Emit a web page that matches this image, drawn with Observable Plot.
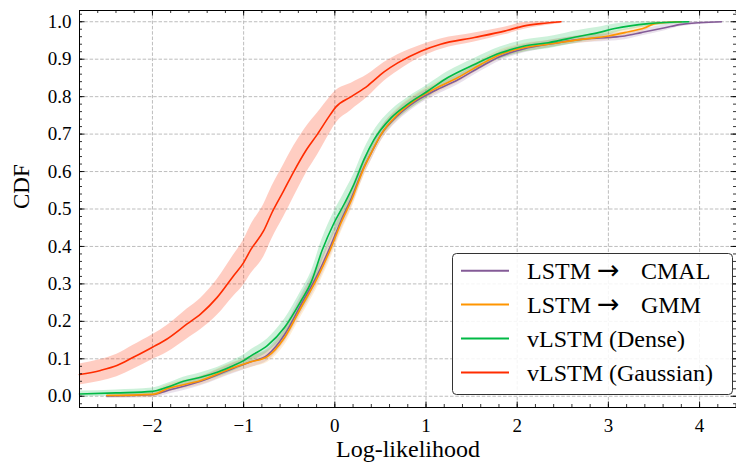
<!DOCTYPE html>
<html>
<head>
<meta charset="utf-8">
<script src="https://cdn.jsdelivr.net/npm/d3@7"></script>
<script src="https://cdn.jsdelivr.net/npm/@observablehq/plot@0.6"></script>
<style>
  body { margin: 0; background: #fff; }
  #chart svg { display: block; }
</style>
</head>
<body>
<div id="chart"></div>
<script>
// ---------- data ----------
const seriesNames = ["LSTM \u2192 CMAL", "LSTM \u2192 GMM", "vLSTM (Dense)", "vLSTM (Gaussian)"];
const seriesColors = ["#845B97", "#FF9500", "#00B945", "#FF2C00"];

const cmalX = [-2.50,-2.00,-1.84,-1.47,-1.11,-0.92,-0.74,-0.55,-0.37,-0.19,-0.04,0.07,0.18,0.32,0.40,0.51,0.69,0.87,1.09,1.35,1.60,1.82,2.08,2.34,2.70,3.00,3.18,3.36,3.62,3.80,4.24];
const cmalY = [0.001,0.004,0.015,0.040,0.075,0.092,0.110,0.165,0.245,0.325,0.405,0.470,0.528,0.612,0.650,0.700,0.750,0.785,0.815,0.845,0.880,0.908,0.928,0.940,0.953,0.958,0.962,0.971,0.984,0.993,1.000];
const cmalBand = [0.006,0.008,0.010,0.012,0.014,0.015,0.016,0.020,0.024,0.026,0.026,0.026,0.025,0.022,0.020,0.018,0.016,0.015,0.014,0.013,0.012,0.012,0.011,0.010,0.010,0.010,0.010,0.009,0.008,0.006,0.004];

const gmmX = [-2.50,-2.00,-1.84,-1.47,-1.11,-0.92,-0.74,-0.55,-0.37,-0.19,-0.04,0.07,0.18,0.32,0.40,0.51,0.69,0.87,1.09,1.35,1.60,1.82,2.08,2.34,2.70,3.00,3.18,3.40,3.51,3.80];
const gmmY = [0.002,0.005,0.020,0.042,0.077,0.092,0.106,0.157,0.237,0.317,0.397,0.464,0.522,0.610,0.650,0.700,0.753,0.789,0.820,0.851,0.886,0.913,0.931,0.940,0.953,0.962,0.971,0.984,0.995,1.000];
const gmmBand = [0.006,0.008,0.010,0.012,0.014,0.015,0.016,0.020,0.024,0.026,0.026,0.026,0.025,0.022,0.020,0.018,0.016,0.015,0.014,0.013,0.012,0.012,0.011,0.010,0.010,0.010,0.009,0.008,0.006,0.004];

const denseX = [-2.80,-2.40,-2.00,-1.84,-1.66,-1.47,-1.29,-1.11,-1.00,-0.92,-0.74,-0.55,-0.37,-0.26,-0.14,-0.01,0.10,0.21,0.32,0.43,0.62,0.80,1.02,1.24,1.53,1.82,2.08,2.34,2.70,2.89,3.07,3.44,3.88];
const denseY = [0.006,0.009,0.013,0.024,0.040,0.051,0.064,0.082,0.095,0.108,0.135,0.184,0.255,0.304,0.389,0.462,0.512,0.566,0.632,0.685,0.744,0.780,0.815,0.851,0.886,0.917,0.935,0.944,0.962,0.971,0.982,0.995,1.000];
const denseBand = [0.008,0.008,0.009,0.010,0.011,0.012,0.013,0.014,0.015,0.016,0.018,0.022,0.026,0.028,0.030,0.030,0.030,0.028,0.026,0.024,0.020,0.018,0.017,0.016,0.016,0.016,0.016,0.016,0.016,0.014,0.012,0.008,0.004];

const gaussX = [-2.80,-2.57,-2.39,-2.21,-2.00,-1.84,-1.62,-1.47,-1.29,-1.11,-1.00,-0.92,-0.78,-0.69,-0.56,-0.45,-0.32,-0.19,-0.05,0.01,0.18,0.36,0.54,0.69,0.95,1.16,1.53,1.86,2.08,2.26,2.48];
const gaussY = [0.058,0.069,0.082,0.104,0.131,0.153,0.193,0.220,0.264,0.322,0.357,0.392,0.442,0.490,0.549,0.600,0.655,0.700,0.752,0.772,0.800,0.829,0.866,0.890,0.922,0.940,0.958,0.975,0.989,0.995,1.000];
const gaussBand = [0.028,0.029,0.030,0.032,0.033,0.036,0.040,0.042,0.048,0.055,0.060,0.065,0.070,0.070,0.070,0.068,0.062,0.056,0.048,0.044,0.036,0.030,0.025,0.022,0.016,0.014,0.012,0.010,0.009,0.007,0.005];

const xMajorTicks = [-2, -1, 0, 1, 2, 3, 4];
const yMajorTicks = [0.0, 0.1, 0.2, 0.3, 0.4, 0.5, 0.6, 0.7, 0.8, 0.9, 1.0];

// ---------- build tables ----------
function table(xs, ys, bs, name) {
  return xs.map((x, i) => ({x, y: ys[i], lo: ys[i] - bs[i], hi: Math.min(1.0, ys[i] + bs[i]), name}));
}
const series = [
  table(cmalX, cmalY, cmalBand, seriesNames[0]),
  table(gmmX, gmmY, gmmBand, seriesNames[1]),
  table(denseX, denseY, denseBand, seriesNames[2]),
  table(gaussX, gaussY, gaussBand, seriesNames[3])
];
const bandOpacity = [0.18, 0.16, 0.2, 0.24];

const W = 736, H = 465;
const mL = 79, mR = 0, mT = 10, mB = 58;
const innerW = W - mL - mR, innerH = H - mT - mB;
const xMinor = d3.range(-28, 45, 2).map(d => d / 10);
const yMinor = d3.range(-1, 52, 1).map(d => d / 50);
const FONT = "'Liberation Serif', 'Times New Roman', serif";

const marks = [
  Plot.gridX(xMajorTicks, {stroke: "#b5b5b5", strokeOpacity: 1, strokeWidth: 0.9, strokeDasharray: "3.5,1.8"}),
  Plot.gridY(yMajorTicks, {stroke: "#b5b5b5", strokeOpacity: 1, strokeWidth: 0.9, strokeDasharray: "3.5,1.8"})
];
series.forEach((s, i) => {
  marks.push(Plot.areaY(s, {x: "x", y1: "lo", y2: "hi", fill: seriesColors[i], fillOpacity: bandOpacity[i], curve: "monotone-x"}));
});
series.forEach((s, i) => {
  marks.push(Plot.line(s, {x: "x", y: "y", stroke: seriesColors[i], strokeWidth: 1.6, curve: "monotone-x"}));
});
marks.push(
  Plot.frame({stroke: "#000", strokeWidth: 1}),
  // inward ticks on all four sides
  Plot.tickX(xMinor, {x: d => d, insetTop: innerH - 3, stroke: "#000", strokeWidth: 0.8}),
  Plot.tickX(xMajorTicks, {x: d => d, insetTop: innerH - 5.5, stroke: "#000", strokeWidth: 0.9}),
  Plot.tickX(xMinor, {x: d => d, insetBottom: innerH - 3, stroke: "#000", strokeWidth: 0.8}),
  Plot.tickX(xMajorTicks, {x: d => d, insetBottom: innerH - 5.5, stroke: "#000", strokeWidth: 0.9}),
  Plot.tickY(yMinor, {y: d => d, insetRight: innerW - 3, stroke: "#000", strokeWidth: 0.8}),
  Plot.tickY(yMajorTicks, {y: d => d, insetRight: innerW - 5.5, stroke: "#000", strokeWidth: 0.9}),
  Plot.tickY(yMinor, {y: d => d, insetLeft: innerW - 3, stroke: "#000", strokeWidth: 0.8}),
  Plot.tickY(yMajorTicks, {y: d => d, insetLeft: innerW - 5.5, stroke: "#000", strokeWidth: 0.9}),
  Plot.axisX(xMajorTicks, {anchor: "bottom", tickSize: 0, tickPadding: 11, fontSize: 19, label: null,
    tickFormat: d => d < 0 ? "\u2212" + Math.abs(d) : String(d), fill: "#000"}),
  Plot.axisY(yMajorTicks, {anchor: "left", tickSize: 0, tickPadding: 8, fontSize: 19, label: null,
    tickFormat: d3.format(".1f"), fill: "#000"}),
  Plot.text(["Log-likelihood"], {frameAnchor: "bottom", text: d => d, dy: 49, fontSize: 24, fill: "#000"}),
  Plot.text(["CDF"], {frameAnchor: "left", text: d => d, rotate: -90, dx: -58, fontSize: 23, fill: "#000"})
);

const svg = Plot.plot({
  width: W, height: H,
  marginLeft: mL, marginRight: mR, marginTop: mT, marginBottom: mB,
  x: {domain: [-2.8, 4.405]},
  y: {domain: [-0.03, 1.03]},
  style: {fontFamily: FONT, background: "#fff", color: "#000"},
  marks
});
document.getElementById("chart").appendChild(svg);

// ---------- legend (inside the plot, lower right) ----------
const lg = d3.select(svg).append("g").attr("font-family", FONT).attr("font-size", 24)
  .attr("text-anchor", "start");
const boxX = 452.5, boxY = 253.5, boxW = 280, boxH = 141;
lg.append("rect").attr("x", boxX).attr("y", boxY).attr("width", boxW).attr("height", boxH)
  .attr("rx", 4).attr("fill", "#fff").attr("fill-opacity", 0.85).attr("stroke", "#333").attr("stroke-width", 1);
seriesNames.forEach((name, i) => {
  const cy = 270.7 + i * 33.9;
  lg.append("line").attr("x1", 461).attr("x2", 509).attr("y1", cy).attr("y2", cy)
    .attr("stroke", seriesColors[i]).attr("stroke-width", 2);
  const t = lg.append("text").attr("x", 527).attr("y", cy).attr("dy", "0.35em").attr("fill", "#000")
    .attr("text-anchor", "start");
  const parts = name.split(" \u2192 ");
  if (parts.length === 2) {
    t.append("tspan").text(parts[0]);
    t.append("tspan").attr("x", 597).attr("font-family", "'DejaVu Sans', sans-serif").attr("font-size", 27)
      .text("\u2192");
    t.append("tspan").attr("x", 641).text(parts[1]);
  } else {
    t.text(name);
  }
});
</script>
</body>
</html>
